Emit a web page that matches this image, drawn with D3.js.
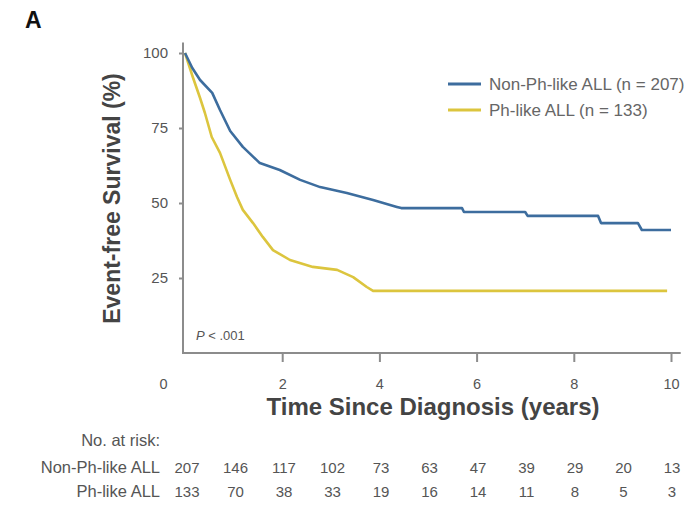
<!DOCTYPE html>
<html>
<head>
<meta charset="utf-8">
<script src="https://cdn.jsdelivr.net/npm/d3@7"></script>
<style>
  html, body { margin: 0; padding: 0; background: #fff; }
  svg { display: block; font-family: "Liberation Sans", Arial, sans-serif; }
</style>
</head>
<body>
<svg id="chart" width="700" height="505"></svg>
<script>
// Kaplan-Meier event-free survival estimates (years, %)
const nonPhTime = [0, 0.15, 0.31, 0.56, 0.72, 0.93, 1.19, 1.54, 1.95, 2.37, 2.78, 3.33, 3.87, 4.36, 4.45, 5.7, 5.74, 7.0, 7.05, 8.5, 8.56, 9.32, 9.4, 10.0];
const nonPhSurv = [100, 95, 91, 86.7, 81, 74, 68.7, 63.3, 61, 57.7, 55.3, 53.3, 51, 48.7, 48.3, 48.3, 47, 47, 45.7, 45.7, 43.3, 43.3, 41, 41];

const phTime = [0, 0.16, 0.31, 0.41, 0.55, 0.72, 0.93, 1.07, 1.19, 1.4, 1.6, 1.81, 2.16, 2.63, 3.13, 3.46, 3.74, 3.87, 9.92];
const phSurv = [100, 92, 85, 80, 72, 66.7, 57.7, 52, 47.7, 43.3, 38.7, 34.3, 31, 28.7, 27.7, 25.3, 22, 20.7, 20.7];

// Numbers at risk, one value per year from 0 to 10
const riskYears = [0, 1, 2, 3, 4, 5, 6, 7, 8, 9, 10];
const nonPhRisk = [207, 146, 117, 102, 73, 63, 47, 39, 29, 20, 13];
const phRisk = [133, 70, 38, 33, 19, 16, 14, 11, 8, 5, 3];

const xTicks = [0, 2, 4, 6, 8, 10];
const yTicks = [25, 50, 75, 100];

const groupNames = ["Non-Ph-like ALL", "Ph-like ALL"];
const legendLabels = ["Non-Ph-like ALL (n = 207)", "Ph-like ALL (n = 133)"];
const groupColors = ["#3d6d9e", "#dcc53e"];

const svg = d3.select("#chart");

const x = d3.scaleLinear().domain([0, 10]).range([185, 671]);
const y = d3.scaleLinear().domain([0, 100]).range([353, 53]);

const axisColor = "#8c8c8c";
const textColor = "#555";

// panel letter
svg.append("text")
  .attr("x", 25).attr("y", 28)
  .attr("font-size", 23).attr("font-weight", "bold").attr("fill", "#111")
  .text("A");

// y axis
const yAxis = svg.append("g")
  .attr("transform", `translate(${x(0) - 2},0)`)
  .call(d3.axisLeft(y).tickValues(yTicks).tickSize(4).tickPadding(11));
yAxis.select(".domain").remove();
yAxis.selectAll(".tick line").attr("stroke", axisColor).attr("stroke-width", 2);
yAxis.selectAll(".tick text").attr("font-size", 15).attr("fill", textColor)
  .attr("font-family", "Liberation Sans, Arial, sans-serif");

// x axis
const xAxis = svg.append("g")
  .attr("transform", `translate(0,${y(0)})`)
  .call(d3.axisBottom(x).tickValues(xTicks).tickSize(9).tickPadding(17));
xAxis.select(".domain").remove();
xAxis.selectAll(".tick line").attr("stroke", axisColor).attr("stroke-width", 2)
  .filter(d => d === 0).remove();
xAxis.selectAll(".tick text").attr("font-size", 14.5).attr("fill", textColor)
  .attr("font-family", "Liberation Sans, Arial, sans-serif")
  .attr("dx", d => d === 0 ? -22 : 0);

// axis lines
svg.append("line")
  .attr("x1", x(0) - 2).attr("x2", x(0) - 2)
  .attr("y1", y(103.5)).attr("y2", y(0) + 1)
  .attr("stroke", axisColor).attr("stroke-width", 2);
svg.append("line")
  .attr("x1", x(0) - 3).attr("x2", x(10.2))
  .attr("y1", y(0)).attr("y2", y(0))
  .attr("stroke", axisColor).attr("stroke-width", 2);

// axis titles
svg.append("text")
  .attr("x", 433).attr("y", 415)
  .attr("text-anchor", "middle")
  .attr("font-size", 24).attr("font-weight", "bold").attr("fill", "#444")
  .text("Time Since Diagnosis (years)");

svg.append("text")
  .attr("transform", `translate(120,${y(51.5)}) rotate(-90)`)
  .attr("text-anchor", "middle")
  .attr("font-size", 23).attr("font-weight", "bold").attr("fill", "#444")
  .text("Event-free Survival (%)");

// survival curves
const line = d3.line().x(d => x(d[0])).y(d => y(d[1]));
const series = [
  d3.zip(phTime, phSurv),
  d3.zip(nonPhTime, nonPhSurv)
];
const seriesColors = [groupColors[1], groupColors[0]];
series.forEach((pts, i) => {
  svg.append("path")
    .datum(pts)
    .attr("d", line)
    .attr("fill", "none")
    .attr("stroke", seriesColors[i])
    .attr("stroke-width", 2.6)
    .attr("stroke-linejoin", "round");
});

// legend
legendLabels.forEach((lab, i) => {
  const ly = 84 + i * 26;
  svg.append("line")
    .attr("x1", 448).attr("x2", 481).attr("y1", ly).attr("y2", ly)
    .attr("stroke", groupColors[i]).attr("stroke-width", 3);
  svg.append("text")
    .attr("x", 489).attr("y", ly + 5.5)
    .attr("font-size", 17).attr("fill", "#666")
    .text(lab);
});

// p-value
const pText = svg.append("text")
  .attr("x", 196).attr("y", 340)
  .attr("font-size", 13).attr("fill", "#555");
pText.append("tspan").attr("font-style", "italic").text("P");
pText.append("tspan").text(" < .001");

// numbers at risk table
const col = d3.scaleLinear().domain([0, 10]).range([187, 672]);
svg.append("text")
  .attr("x", 160).attr("y", 446)
  .attr("text-anchor", "end")
  .attr("font-size", 16.5).attr("fill", textColor)
  .text("No. at risk:");

[nonPhRisk, phRisk].forEach((vals, i) => {
  const ry = 473 + i * 24;
  svg.append("text")
    .attr("x", 160).attr("y", ry)
    .attr("text-anchor", "end")
    .attr("font-size", 16.5).attr("fill", textColor)
    .text(groupNames[i]);
  svg.selectAll(null)
    .data(vals)
    .enter().append("text")
    .attr("x", (d, j) => col(riskYears[j]))
    .attr("y", ry)
    .attr("text-anchor", "middle")
    .attr("font-size", 15).attr("fill", textColor)
    .text(d => d);
});
</script>
</body>
</html>
